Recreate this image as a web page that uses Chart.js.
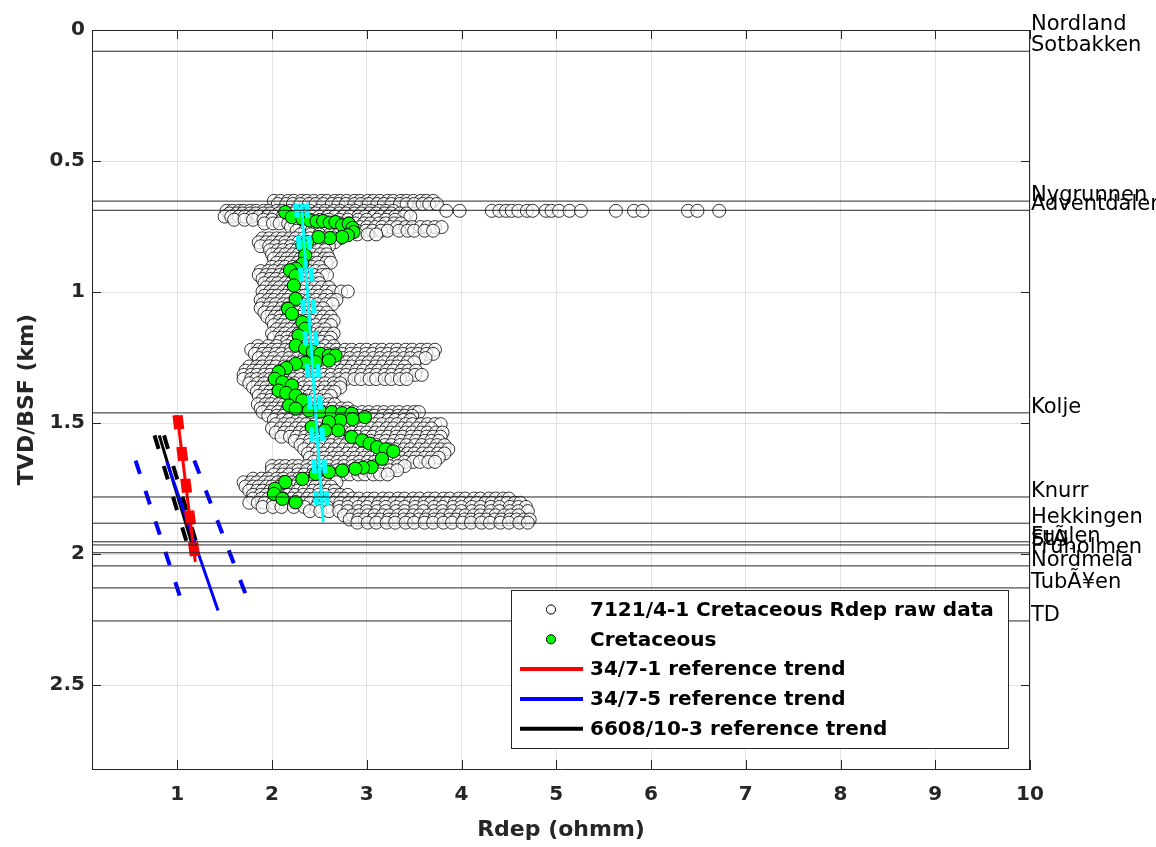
<!DOCTYPE html>
<html>
<head>
<meta charset="utf-8">
<title>Rdep vs depth - 7121/4-1</title>
<script src="https://cdn.jsdelivr.net/npm/chart.js@4.4.1/dist/chart.umd.min.js"></script>
<style>
  html, body { margin: 0; padding: 0; background: #fff; }
  #wrap { position: relative; width: 1156px; height: 847px; }
</style>
</head>
<body>
<div id="wrap"><canvas id="chart"></canvas></div>
<script>
// axis setup
const xTicks = [1, 2, 3, 4, 5, 6, 7, 8, 9, 10];
const yTicks = [0, 0.5, 1, 1.5, 2, 2.5];
const xMin = 0.1, xMax = 10;
const yMin = 0, yMax = 2.82;

// formation tops (km TVD/BSF)
const topNames = ['Nordland', 'Sotbakken', 'Nygrunnen', 'Adventdalen', 'Kolje', 'Knurr', 'Hekkingen',
  'Fuglen', 'StÃ¸', 'Fruholmen', 'Nordmela', 'TubÃ¥en', 'TD'];
const topDepths = [0, 0.081, 0.653, 0.688, 1.461, 1.782, 1.882, 1.953, 1.965, 1.995, 2.045, 2.129, 2.255];

// 7121/4-1 raw Rdep, one row of readings per depth
const rawDepth = [0.652, 0.664, 0.690, 0.700, 0.712, 0.724, 0.738, 0.752, 0.766, 0.780, 0.795, 0.810,
  0.825, 0.840, 0.856, 0.872, 0.888, 0.904, 0.920, 0.935, 0.950, 0.966, 0.982, 0.998, 1.014, 1.030,
  1.046, 1.062, 1.078, 1.094, 1.110, 1.126, 1.142, 1.158, 1.174, 1.190, 1.206, 1.220, 1.236, 1.252,
  1.268, 1.284, 1.300, 1.316, 1.332, 1.348, 1.364, 1.380, 1.396, 1.412, 1.428, 1.444, 1.458, 1.472,
  1.488, 1.504, 1.520, 1.536, 1.552, 1.568, 1.584, 1.600, 1.616, 1.632, 1.648, 1.664, 1.680, 1.696,
  1.712, 1.726, 1.742, 1.758, 1.774, 1.788, 1.804, 1.820, 1.836, 1.852, 1.868, 1.880];
const rawRdep = [
  [2.02, 2.09, 2.17, 2.23, 2.31, 2.37, 2.44, 2.52, 2.58, 2.66, 2.72, 2.79, 2.87, 2.93, 3.01, 3.07, 3.14, 3.22, 3.28, 3.36, 3.42, 3.49, 3.57, 3.63, 3.70],
  [2.06, 2.15, 2.22, 2.30, 2.39, 2.46, 2.54, 2.63, 2.70, 2.78, 2.87, 2.94, 3.02, 3.11, 3.18, 3.26, 3.35, 3.42, 3.50, 3.59, 3.66, 3.74],
  [1.52, 1.58, 1.65, 1.70, 1.77, 1.83, 1.91, 1.97, 2.05, 2.11, 2.19, 2.25, 2.33, 2.40, 2.49, 2.56, 2.65, 2.72, 2.81, 2.88, 2.97, 3.04, 3.13, 3.20, 3.28,
    3.84, 3.98, 4.32, 4.40, 4.47, 4.53, 4.60, 4.69, 4.75, 4.89, 4.95, 5.03, 5.14, 5.26, 5.63, 5.82, 5.91, 6.39, 6.49, 6.72],
  [1.55, 1.63, 1.69, 1.77, 1.83, 1.91, 1.98, 2.07, 2.14, 2.23, 2.30, 2.39, 2.46, 2.55, 2.62, 2.71, 2.78, 2.87, 2.94, 3.03, 3.10, 3.19, 3.26, 3.35, 3.42],
  [1.50, 1.57, 1.65, 1.71, 1.79, 1.86, 1.95, 2.02, 2.11, 2.18, 2.27, 2.34, 2.43, 2.50, 2.59, 2.66, 2.75, 2.82, 2.91, 2.98, 3.07, 3.14, 3.23, 3.30, 3.39, 3.46],
  [1.60, 1.71, 1.80, 1.91, 2.00, 2.11, 2.20, 2.31, 2.40, 2.51, 2.60, 2.71, 2.80, 2.91, 3.00, 3.11, 3.20, 3.30],
  [1.92, 2.01, 2.08, 2.17, 2.24, 2.33, 2.40, 2.49, 2.56, 2.65, 2.72, 2.81, 2.88, 2.97, 3.04, 3.13, 3.20, 3.29, 3.36],
  [2.20, 2.29, 2.36, 2.45, 2.52, 2.61, 2.68, 2.77, 2.84, 2.93, 3.00, 3.09, 3.16, 3.25, 3.32, 3.41, 3.48, 3.57, 3.64, 3.72, 3.79],
  [2.26, 2.35, 2.42, 2.51, 2.58, 2.67, 2.74, 2.83, 2.90, 2.99, 3.06, 3.15, 3.22, 3.34, 3.43, 3.50, 3.61, 3.70],
  [2.30, 2.41, 2.50, 2.61, 2.70, 2.81, 2.90, 3.01, 3.10],
  [1.90, 1.97, 2.05, 2.11, 2.19, 2.25, 2.33, 2.40, 2.49, 2.56, 2.65, 2.72],
  [1.86, 1.94, 2.00, 2.08, 2.14, 2.22, 2.28, 2.37, 2.44, 2.53, 2.60, 2.66],
  [1.88, 1.97, 2.04, 2.13, 2.20, 2.29, 2.36, 2.45, 2.52, 2.60],
  [1.98, 2.06, 2.12, 2.20, 2.26, 2.34, 2.40, 2.49, 2.56],
  [2.00, 2.08, 2.14, 2.22, 2.28, 2.36, 2.42, 2.51, 2.58],
  [2.02, 2.10, 2.16, 2.24, 2.30, 2.39, 2.46, 2.55, 2.60],
  [2.05, 2.13, 2.19, 2.27, 2.33, 2.41, 2.48, 2.57, 2.62],
  [2.00, 2.08, 2.14, 2.22, 2.28, 2.36, 2.42, 2.50],
  [1.88, 1.96, 2.02, 2.10, 2.16, 2.24, 2.30, 2.39, 2.46, 2.54],
  [1.86, 1.94, 2.00, 2.08, 2.14, 2.22, 2.28, 2.37, 2.44, 2.53, 2.58],
  [1.90, 1.98, 2.04, 2.12, 2.18, 2.26, 2.32, 2.41, 2.48],
  [1.92, 2.00, 2.06, 2.14, 2.20, 2.28, 2.34, 2.43, 2.50],
  [1.94, 2.02, 2.08, 2.16, 2.22, 2.30, 2.36, 2.45, 2.52, 2.60],
  [1.90, 1.98, 2.04, 2.12, 2.18, 2.26, 2.32, 2.41, 2.48, 2.57, 2.64, 2.73, 2.80],
  [1.92, 2.00, 2.06, 2.14, 2.20, 2.28, 2.34, 2.43, 2.50, 2.58],
  [1.88, 1.96, 2.02, 2.10, 2.16, 2.24, 2.30, 2.39, 2.46, 2.55, 2.62, 2.68],
  [1.90, 1.98, 2.04, 2.12, 2.18, 2.26, 2.32, 2.41, 2.48, 2.57, 2.64],
  [1.88, 1.96, 2.02, 2.10, 2.16, 2.24, 2.30, 2.39, 2.46, 2.54],
  [1.92, 2.00, 2.06, 2.14, 2.20, 2.28, 2.34, 2.43, 2.50, 2.58],
  [1.95, 2.03, 2.09, 2.17, 2.23, 2.31, 2.38, 2.47, 2.54, 2.62],
  [2.00, 2.08, 2.14, 2.22, 2.28, 2.36, 2.42, 2.51, 2.58, 2.65],
  [2.02, 2.10, 2.16, 2.24, 2.30, 2.39, 2.46, 2.55, 2.62],
  [2.05, 2.13, 2.19, 2.27, 2.33, 2.41, 2.48, 2.56],
  [2.00, 2.08, 2.14, 2.22, 2.28, 2.36, 2.42, 2.51, 2.58, 2.65],
  [2.02, 2.10, 2.16, 2.24, 2.30, 2.39, 2.46, 2.55, 2.62],
  [2.08, 2.16, 2.22, 2.30, 2.36, 2.45, 2.52, 2.60],
  [1.85, 1.96, 2.05, 2.16, 2.25, 2.36, 2.45, 2.56, 2.65],
  [1.78, 1.86, 1.92, 2.00, 2.06, 2.14, 2.20, 2.29, 2.36, 2.45, 2.52, 2.61, 2.68, 2.77, 2.84, 2.93, 3.00, 3.09, 3.16, 3.25, 3.32, 3.41, 3.48, 3.57, 3.64, 3.72],
  [1.82, 1.90, 1.96, 2.04, 2.10, 2.19, 2.26, 2.35, 2.42, 2.51, 2.58, 2.67, 2.74, 2.83, 2.90, 2.99, 3.06, 3.15, 3.22, 3.31, 3.38, 3.47, 3.54, 3.63, 3.70],
  [1.86, 1.95, 2.02, 2.11, 2.18, 2.27, 2.34, 2.43, 2.50, 2.59, 2.66, 2.75, 2.82, 2.91, 2.98, 3.07, 3.14, 3.23, 3.30, 3.39, 3.46, 3.55, 3.62],
  [1.90, 1.99, 2.06, 2.15, 2.22, 2.31, 2.38, 2.47, 2.54, 2.63, 2.70, 2.79, 2.86, 2.95, 3.02, 3.11, 3.18, 3.27, 3.34, 3.43, 3.50],
  [1.76, 1.84, 1.90, 1.98, 2.04, 2.13, 2.20, 2.29, 2.36, 2.45, 2.52, 2.61, 2.68, 2.77, 2.84, 2.93, 3.00, 3.09, 3.16, 3.25, 3.32, 3.40],
  [1.72, 1.80, 1.86, 1.94, 2.00, 2.09, 2.16, 2.25, 2.32, 2.41, 2.48, 2.57, 2.64, 2.73, 2.80, 2.89, 2.96, 3.05, 3.12, 3.21, 3.28, 3.37, 3.44, 3.52],
  [1.70, 1.78, 1.84, 1.92, 1.98, 2.07, 2.14, 2.23, 2.30, 2.39, 2.46, 2.55, 2.62, 2.71, 2.78, 2.87, 2.94, 3.03, 3.10, 3.19, 3.26, 3.35, 3.42, 3.51, 3.58],
  [1.70, 1.78, 1.84, 1.92, 1.98, 2.07, 2.14, 2.23, 2.30, 2.39, 2.46, 2.55, 2.62, 2.71, 2.78, 2.87, 2.94, 3.03, 3.10, 3.19, 3.26, 3.35, 3.42],
  [1.76, 1.85, 1.92, 2.01, 2.08, 2.17, 2.24, 2.33, 2.40, 2.49, 2.56, 2.65, 2.72],
  [1.80, 1.88, 1.94, 2.02, 2.08, 2.17, 2.24, 2.33, 2.40, 2.49, 2.56, 2.65, 2.72],
  [1.84, 1.92, 1.98, 2.06, 2.12, 2.21, 2.28, 2.37, 2.44, 2.53, 2.60, 2.66],
  [1.86, 1.94, 2.00, 2.08, 2.14, 2.23, 2.30, 2.39, 2.46, 2.55, 2.62],
  [1.90, 1.98, 2.04, 2.12, 2.18, 2.27, 2.34, 2.43, 2.50, 2.58],
  [1.85, 1.93, 1.99, 2.07, 2.13, 2.21, 2.28, 2.37, 2.44, 2.53, 2.60, 2.66],
  [1.88, 1.96, 2.02, 2.10, 2.16, 2.25, 2.32, 2.41, 2.48, 2.57, 2.64, 2.73, 2.80],
  [1.90, 1.99, 2.06, 2.15, 2.22, 2.31, 2.38, 2.47, 2.54, 2.63, 2.70, 2.79, 2.86, 2.95, 3.02, 3.11, 3.18, 3.27, 3.34, 3.43, 3.50, 3.55],
  [1.96, 2.05, 2.12, 2.21, 2.28, 2.37, 2.44, 2.53, 2.60, 2.69, 2.76, 2.85, 2.92, 3.01, 3.08, 3.17, 3.24, 3.33, 3.40, 3.48],
  [2.02, 2.11, 2.18, 2.27, 2.34, 2.43, 2.50, 2.59, 2.66, 2.75, 2.82, 2.91, 2.98, 3.07, 3.14, 3.23, 3.30, 3.39, 3.46],
  [2.04, 2.13, 2.20, 2.29, 2.36, 2.45, 2.52, 2.61, 2.68, 2.77, 2.84, 2.93, 3.00, 3.09, 3.16, 3.25, 3.32, 3.41, 3.48, 3.57, 3.64, 3.72, 3.78],
  [2.00, 2.09, 2.16, 2.25, 2.32, 2.41, 2.48, 2.57, 2.64, 2.73, 2.80, 2.89, 2.96, 3.05, 3.12, 3.21, 3.28, 3.37, 3.44, 3.53, 3.60, 3.68],
  [2.04, 2.13, 2.20, 2.29, 2.36, 2.45, 2.52, 2.61, 2.68, 2.77, 2.84, 2.93, 3.00, 3.09, 3.16, 3.25, 3.32, 3.41, 3.48, 3.57, 3.64, 3.73, 3.80],
  [2.10, 2.19, 2.26, 2.35, 2.42, 2.51, 2.58, 2.67, 2.74, 2.83, 2.90, 2.99, 3.06, 3.15, 3.22, 3.31, 3.38, 3.47, 3.54, 3.63, 3.70, 3.78],
  [2.24, 2.33, 2.40, 2.49, 2.56, 2.65, 2.72, 2.81, 2.88, 2.97, 3.04, 3.13, 3.20, 3.29, 3.36, 3.45, 3.52, 3.61, 3.68, 3.76],
  [2.30, 2.39, 2.46, 2.55, 2.62, 2.71, 2.78, 2.87, 2.94, 3.03, 3.10, 3.19, 3.26, 3.35, 3.42, 3.51, 3.58, 3.67, 3.74, 3.82],
  [2.34, 2.43, 2.50, 2.59, 2.66, 2.75, 2.82, 2.91, 2.98, 3.07, 3.14, 3.23, 3.30, 3.39, 3.46, 3.55, 3.62, 3.71, 3.78, 3.86],
  [2.38, 2.47, 2.54, 2.63, 2.70, 2.79, 2.86, 2.95, 3.02, 3.11, 3.18, 3.27, 3.34, 3.43, 3.50, 3.59, 3.66, 3.75, 3.82],
  [2.40, 2.49, 2.56, 2.65, 2.72, 2.81, 2.88, 2.97, 3.04, 3.13, 3.20, 3.29, 3.36, 3.45, 3.52, 3.61, 3.68, 3.76],
  [2.44, 2.53, 2.60, 2.69, 2.76, 2.85, 2.92, 3.01, 3.08, 3.17, 3.24, 3.33, 3.40, 3.49, 3.56, 3.65, 3.72],
  [2.00, 2.08, 2.14, 2.22, 2.28, 2.37, 2.44, 2.53, 2.60, 2.69, 2.76, 2.85, 2.92, 3.01, 3.08, 3.17, 3.24, 3.33, 3.40],
  [2.00, 2.08, 2.14, 2.22, 2.28, 2.37, 2.44, 2.53, 2.60, 2.69, 2.76, 2.85, 2.92, 3.01, 3.08, 3.17, 3.24, 3.32],
  [2.02, 2.11, 2.18, 2.27, 2.34, 2.43, 2.50, 2.59, 2.66, 2.75, 2.82, 2.91, 2.98, 3.07, 3.14, 3.22],
  [1.80, 1.89, 1.96, 2.05, 2.12, 2.21, 2.28, 2.37, 2.44, 2.53, 2.60, 2.66],
  [1.70, 1.78, 1.84, 1.92, 1.98, 2.06, 2.12, 2.21, 2.28, 2.37, 2.44, 2.53, 2.60, 2.68],
  [1.72, 1.80, 1.86, 1.94, 2.00, 2.08, 2.14, 2.23, 2.30, 2.39, 2.46, 2.55, 2.62],
  [1.76, 1.84, 1.90, 1.98, 2.04, 2.12, 2.18, 2.27, 2.34, 2.43, 2.50, 2.59, 2.66],
  [1.80, 1.88, 1.94, 2.02, 2.08, 2.17, 2.24, 2.33, 2.40, 2.49, 2.56, 2.65, 2.72, 2.80],
  [1.80, 1.89, 1.96, 2.05, 2.12, 2.21, 2.28, 2.37, 2.44, 2.53, 2.60, 2.69, 2.76, 2.85, 2.92, 3.01, 3.08, 3.17, 3.24, 3.33, 3.40,
    3.49, 3.56, 3.65, 3.72, 3.81, 3.88, 3.97, 4.04, 4.13, 4.20, 4.29, 4.36, 4.44, 4.50],
  [1.76, 1.85, 1.92, 2.01, 2.08, 2.17, 2.24, 2.33, 2.40, 2.49, 2.56, 2.65, 2.72, 2.81, 2.88, 2.97, 3.04, 3.13, 3.20, 3.29, 3.36,
    3.45, 3.52, 3.61, 3.68, 3.77, 3.84, 3.93, 4.00, 4.09, 4.16, 4.25, 4.32, 4.41, 4.48, 4.56, 4.62],
  [1.90, 2.01, 2.10, 2.23, 2.34, 2.47, 2.58, 2.71, 2.80, 2.91, 3.00, 3.11, 3.20, 3.31, 3.40, 3.51, 3.60, 3.71, 3.80, 3.91, 4.00,
    4.11, 4.20, 4.31, 4.40, 4.51, 4.60, 4.68],
  [2.40, 2.51, 2.60, 2.71, 2.80, 2.91, 3.00, 3.11, 3.20, 3.31, 3.40, 3.51, 3.60, 3.71, 3.80, 3.91, 4.00, 4.11, 4.20, 4.31, 4.40,
    4.51, 4.60, 4.70],
  [2.76, 2.85, 2.92, 3.01, 3.08, 3.17, 3.24, 3.33, 3.40, 3.49, 3.56, 3.65, 3.72, 3.81, 3.88, 3.97, 4.04, 4.13, 4.20, 4.29, 4.36,
    4.45, 4.52, 4.60],
  [2.82, 2.91, 2.98, 3.07, 3.14, 3.23, 3.30, 3.39, 3.46, 3.55, 3.62, 3.71, 3.78, 3.87, 3.94, 4.03, 4.10, 4.19, 4.26, 4.35, 4.42,
    4.51, 4.58, 4.66, 4.72],
  [2.90, 3.01, 3.10, 3.21, 3.30, 3.41, 3.50, 3.61, 3.70, 3.81, 3.90, 4.01, 4.10, 4.21, 4.30, 4.41, 4.50, 4.61, 4.70]
];

// Cretaceous picks (green)
const cretRdep = [2.14, 2.21, 2.32, 2.40, 2.47, 2.54, 2.61, 2.67, 2.74, 2.81, 2.85, 2.86, 2.80, 2.74, 2.61,
  2.49, 2.37, 2.32, 2.35, 2.32, 2.25, 2.19, 2.25, 2.23, 2.25, 2.17, 2.21, 2.32, 2.35, 2.28, 2.25, 2.35,
  2.43, 2.51, 2.60, 2.67, 2.60, 2.46, 2.35, 2.25, 2.15, 2.07, 2.03, 2.11, 2.21, 2.07, 2.15, 2.25, 2.32,
  2.18, 2.25, 2.39, 2.51, 2.63, 2.74, 2.84, 2.98, 2.85, 2.72, 2.60, 2.42, 2.56, 2.70, 2.84, 2.95, 3.03,
  3.11, 3.20, 3.28, 3.16, 3.05, 2.96, 2.88, 2.74, 2.60, 2.46, 2.32, 2.14, 2.03, 2.02, 2.11, 2.25];
const cretDepth = [0.695, 0.714, 0.720, 0.727, 0.730, 0.729, 0.735, 0.733, 0.745, 0.739, 0.755, 0.771, 0.783,
  0.790, 0.794, 0.790, 0.809, 0.822, 0.860, 0.892, 0.911, 0.917, 0.937, 0.975, 1.026, 1.064, 1.083, 1.115,
  1.140, 1.166, 1.204, 1.216, 1.228, 1.236, 1.242, 1.242, 1.261, 1.267, 1.270, 1.274, 1.290, 1.305, 1.331,
  1.344, 1.356, 1.376, 1.385, 1.395, 1.414, 1.433, 1.445, 1.452, 1.455, 1.458, 1.462, 1.464, 1.477, 1.485,
  1.490, 1.496, 1.515, 1.528, 1.528, 1.553, 1.566, 1.578, 1.592, 1.600, 1.608, 1.636, 1.668, 1.670, 1.674,
  1.681, 1.687, 1.694, 1.713, 1.725, 1.751, 1.770, 1.789, 1.802];

// trend lines: [top, bottom] for centre, low and high bound
const cretTrendDepth = [0.663, 1.878];
const cretTrendMid = [2.31, 2.54];
const cretTrendLow = [2.255, 2.485];
const cretTrendHigh = [2.365, 2.595];

const ref1Depth = [1.47, 2.03];      // 34/7-1
const ref1Mid = [1.0, 1.19];
const ref1Low = [0.975, 1.165];
const ref1High = [1.03, 1.22];

const ref5Depth = [1.648, 2.215];    // 34/7-5
const ref5Mid = [0.89, 1.43];
const ref5BoundDepth = [1.643, 2.18];
const ref5Low = [0.56, 1.045];
const ref5High = [1.18, 1.75];

const ref3Depth = [1.547, 1.967];    // 6608/10-3
const ref3Mid = [0.81, 1.16];
const ref3Low = [0.76, 1.11];
const ref3High = [0.86, 1.21];

const legendLabels = ['7121/4-1 Cretaceous Rdep raw data', 'Cretaceous', '34/7-1 reference trend',
  '34/7-5 reference trend', '6608/10-3 reference trend'];

const boldFont = 'DejaVu Sans';
const axisColor = '#262626';

function pts(xv, yv) {
  return xv.map((v, i) => ({ x: v, y: yv[i] }));
}

const rawPoints = [];
rawDepth.forEach((d, i) => {
  rawRdep[i].forEach(v => rawPoints.push({ x: v, y: d }));
});

function trendSet(xv, yv, color, width, dashed, order) {
  return {
    type: 'line',
    data: pts(xv, yv),
    borderColor: color,
    borderWidth: width,
    borderDash: dashed ? [14, 18] : [],
    borderCapStyle: 'butt',
    pointRadius: 0,
    fill: false,
    order: order
  };
}

const datasets = [];

// formation top lines
topDepths.forEach(d => {
  datasets.push({
    type: 'line',
    data: [{ x: xMin, y: d }, { x: xMax, y: d }],
    borderColor: axisColor,
    borderWidth: 1,
    pointRadius: 0,
    order: 0
  });
});

// cyan Cretaceous trend
datasets.push(trendSet(cretTrendMid, cretTrendDepth, '#00ffff', 3, false, 1));
datasets.push(trendSet(cretTrendLow, cretTrendDepth, '#00ffff', 5, true, 1));
datasets.push(trendSet(cretTrendHigh, cretTrendDepth, '#00ffff', 5, true, 1));

// reference trends
datasets.push(trendSet(ref1Mid, ref1Depth, '#ff0000', 3, false, 2));
datasets.push(trendSet(ref1Low, ref1Depth, '#ff0000', 5, true, 2));
datasets.push(trendSet(ref1High, ref1Depth, '#ff0000', 5, true, 2));

datasets.push(trendSet(ref5Mid, ref5Depth, '#0000ff', 3, false, 3));
datasets.push(trendSet(ref5Low, ref5BoundDepth, '#0000ff', 4, true, 3));
datasets.push(trendSet(ref5High, ref5BoundDepth, '#0000ff', 4, true, 3));

datasets.push(trendSet(ref3Mid, ref3Depth, '#000000', 3, false, 4));
datasets.push(trendSet(ref3Low, ref3Depth, '#000000', 4, true, 4));
datasets.push(trendSet(ref3High, ref3Depth, '#000000', 4, true, 4));

// Cretaceous green picks
datasets.push({
  type: 'scatter',
  data: pts(cretRdep, cretDepth),
  backgroundColor: '#00ff00',
  borderColor: '#000000',
  borderWidth: 1,
  pointRadius: 6.6,
  order: 5
});

// raw data, open circles (faint white fill so overlaps read as a jumble)
datasets.push({
  type: 'scatter',
  data: rawPoints,
  backgroundColor: 'rgba(255,255,255,0.72)',
  borderColor: '#000000',
  borderWidth: 0.8,
  pointRadius: 6.5,
  order: 6
});

// box, inner ticks, formation names and legend
const plotExtras = {
  id: 'plotExtras',
  afterDraw(chart) {
    const ctx = chart.ctx;
    const a = chart.chartArea;
    const xs = chart.scales.x;
    const ys = chart.scales.y;
    ctx.save();

    ctx.strokeStyle = axisColor;
    ctx.lineWidth = 1;
    ctx.beginPath();
    ctx.moveTo(a.left, a.top + 0.5);
    ctx.lineTo(a.right, a.top + 0.5);
    ctx.moveTo(a.right - 0.5, a.top);
    ctx.lineTo(a.right - 0.5, a.bottom);
    const tl = 9;
    xTicks.forEach(v => {
      const px = Math.round(xs.getPixelForValue(v)) + 0.5;
      ctx.moveTo(px, a.bottom); ctx.lineTo(px, a.bottom - tl);
      ctx.moveTo(px, a.top); ctx.lineTo(px, a.top + tl);
    });
    yTicks.forEach(v => {
      const py = Math.round(ys.getPixelForValue(v)) + 0.5;
      ctx.moveTo(a.left, py); ctx.lineTo(a.left + tl, py);
      ctx.moveTo(a.right, py); ctx.lineTo(a.right - tl, py);
    });
    ctx.stroke();

    // formation names
    ctx.fillStyle = '#000';
    ctx.font = '21px "DejaVu Sans"';
    ctx.textAlign = 'left';
    ctx.textBaseline = 'alphabetic';
    topNames.forEach((name, i) => {
      ctx.fillText(name, a.right + 1, ys.getPixelForValue(topDepths[i]));
    });

    // legend
    const bx = a.right - 519, by = a.bottom - 179, bw = 497, bh = 158;
    ctx.fillStyle = '#fff';
    ctx.fillRect(bx, by, bw, bh);
    ctx.strokeStyle = axisColor;
    ctx.lineWidth = 1;
    ctx.strokeRect(bx + 0.5, by + 0.5, bw, bh);
    const rowH = 29.8;
    const lineColors = ['#ff0000', '#0000ff', '#000000'];
    legendLabels.forEach((label, i) => {
      const cy = by + 19.5 + i * rowH;
      if (i === 0 || i === 1) {
        ctx.beginPath();
        ctx.arc(bx + 40, cy, 4.6, 0, Math.PI * 2);
        ctx.fillStyle = i === 0 ? '#fff' : '#00ff00';
        ctx.fill();
        ctx.strokeStyle = '#000';
        ctx.lineWidth = 1;
        ctx.stroke();
      } else {
        ctx.beginPath();
        ctx.moveTo(bx + 9, cy);
        ctx.lineTo(bx + 72, cy);
        ctx.strokeStyle = lineColors[i - 2];
        ctx.lineWidth = 4;
        ctx.stroke();
      }
      ctx.fillStyle = '#000';
      ctx.font = 'bold 20px "DejaVu Sans"';
      ctx.textBaseline = 'middle';
      ctx.fillText(label, bx + 79, cy + 1);
    });
    ctx.restore();
  }
};

new Chart(document.getElementById('chart'), {
  data: { datasets: datasets },
  options: {
    responsive: true,
    maintainAspectRatio: false,
    animation: false,
    events: [],
    layout: { padding: { top: 30, right: 126, bottom: 0, left: 0 } },
    plugins: { legend: { display: false }, tooltip: { enabled: false } },
    scales: {
      x: {
        type: 'linear',
        position: 'bottom',
        min: xMin,
        max: xMax,
        afterBuildTicks: s => { s.ticks = xTicks.map(v => ({ value: v })); },
        afterFit: s => { s.height = 78; },
        grid: { color: '#e2e2e2', drawTicks: false },
        border: { color: axisColor, width: 1 },
        ticks: {
          padding: 14,
          color: axisColor,
          font: { family: boldFont, size: 20, weight: 'bold' },
          callback: v => String(v)
        },
        title: {
          display: true,
          text: 'Rdep (ohmm)',
          color: axisColor,
          font: { family: boldFont, size: 22, weight: 'bold' },
          padding: { top: 0, bottom: 4 }
        }
      },
      y: {
        type: 'linear',
        position: 'left',
        reverse: true,
        min: yMin,
        max: yMax,
        afterBuildTicks: s => { s.ticks = yTicks.map(v => ({ value: v })); },
        afterFit: s => { s.width = 92; },
        grid: { color: '#e2e2e2', drawTicks: false },
        border: { color: axisColor, width: 1 },
        ticks: {
          padding: 7,
          color: axisColor,
          font: { family: boldFont, size: 20, weight: 'bold' },
          callback: v => String(v)
        },
        title: {
          display: true,
          text: 'TVD/BSF (km)',
          color: axisColor,
          font: { family: boldFont, size: 22, weight: 'bold' },
          padding: { top: 14, bottom: 0 }
        }
      }
    }
  },
  plugins: [plotExtras]
});
</script>
